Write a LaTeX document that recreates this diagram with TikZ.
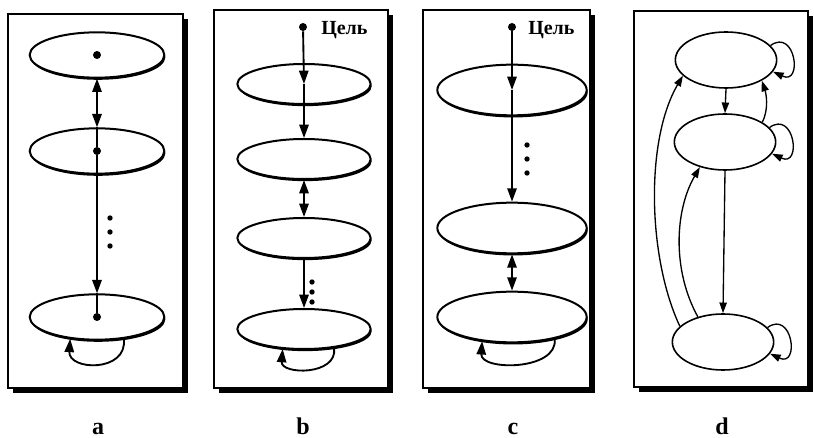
\documentclass[tikz,border=0pt]{standalone}
\usepackage{fontspec}
\setmainfont{Liberation Serif}
\usetikzlibrary{arrows.meta,shapes.geometric,shadows}
\tikzset{
  panel/.style={draw,fill=white,line width=.8pt,drop shadow={shadow xshift=4pt,shadow yshift=-4pt,fill=black,opacity=1}},
  blob/.style={ellipse,draw,fill=white,line width=1.5pt,inner sep=0pt,drop shadow={shadow xshift=.8pt,shadow yshift=-1.6pt,fill=black,opacity=1}},
  ella/.style={blob,minimum width=101pt,minimum height=34pt},
  ellb/.style={blob,minimum width=100pt,minimum height=30pt},
  ellc/.style={blob,minimum width=112pt,minimum height=38pt},
  elld/.style={ellipse,draw,line width=1.2pt,inner sep=0pt,minimum width=76pt,minimum height=42pt},
  spot/.style={circle,fill,inner sep=0pt,minimum size=6pt},
  link/.style={line width=1.4pt},
  arr/.style={link,-{Triangle[length=10pt,width=7pt]}},
  dblarr/.style={link,{Triangle[length=10pt,width=7pt]}-{Triangle[length=10pt,width=7pt]}},
  darr/.style={line width=1pt,-{Triangle[length=8pt,width=5.5pt]}},
  goal/.style={font=\fontsize{15}{17}\selectfont\bfseries,anchor=base west,inner sep=0pt},
  lbl/.style={font=\fontsize{18}{20}\selectfont\bfseries,anchor=base,inner sep=0pt},
}
\begin{document}
\begin{tikzpicture}[x=.75pt,y=-.75pt]
\useasboundingbox (0,0) rectangle (814,438);
\draw[panel] (8,14) rectangle (183,388);
\draw[panel] (214,10) rectangle (388,388);
\draw[panel] (423,10) rectangle (590,388);
\draw[panel] (634,11) rectangle (808,387);

% a
\node[ella] (a1) at (97,55) {};
\node[ella] (a2) at (97,151) {};
\node[ella] (a3) at (97,317) {};
\node[spot] (pa1) at (a1) {};
\node[spot] (pa2) at (a2) {};
\node[spot] (pa3) at (a3) {};
\draw[dblarr] (a1.south) -- (a2.north);
\draw[link] (a2.north) -- (pa2);
\draw[arr] (pa2) -- (a3.north);
\draw[link] (a3.north) -- (pa3);
\foreach \y in {218,232,246} \fill (110,\y) circle (2pt);
\draw[arr] (a3.-39) .. controls +(4,34) and +(-2,32) .. (a3.-141);
\node[lbl] (la) at (98,434) {a};

% b
\node[spot] (gb) at (303,27) {};
\node[goal] (tb) at (321,35) {Цель};
\node[ellb] (b1) at (304,84) {};
\node[ellb] (b2) at (304,159) {};
\node[ellb] (b3) at (304,238) {};
\node[ellb] (b4) at (304,329) {};
\draw[arr] (gb) -- (b1.center);
\draw[arr] (b1.center) -- (b2.north);
\draw[dblarr] (b2.south) -- (b3.north);
\draw[arr] (b3.south) -- (b4.north);
\foreach \y in {282,292,302} \fill (312,\y) circle (2pt);
\draw[arr] (b4.-32) .. controls +(4,28) and +(-2,26) .. (b4.-137);
\node[lbl] (lb) at (303,434) {b};

% c
\node[spot] (gc) at (512,27) {};
\node[goal] (tc) at (528,35) {Цель};
\node[ellc] (c1) at (512,90) {};
\node[ellc] (c2) at (512,228) {};
\node[ellc] (c3) at (512,317) {};
\draw[arr] (gc) -- (c1.center);
\draw[arr] (c1.center) -- (c2.north);
\foreach \y in {145,159,173} \fill (527,\y) circle (2pt);
\draw[dblarr] (c2.south) -- (c3.north);
\draw[arr] (c3.-27) .. controls +(4,32) and +(-2,30) .. (c3.-141);
\node[lbl] (lc) at (513,434) {c};

% d
\node[elld] (d1) at (726,60) {};
\node[elld] (d2) at (725,142) {};
\node[elld] (d3) at (723,342) {};
\draw[darr] (d1.south) -- (d2.north);
\draw[darr] (d2.south) -- (d3.north);
\draw[darr] (d2.28) .. controls +(7,-14) and +(4,12) .. (d1.-30);
\draw[darr] (d3.160) .. controls +(-32,-68) and +(-38,65) .. (d1.-160);
\draw[darr] (d3.135) .. controls +(-26,-47) and +(-25,43) .. (d2.-135);
\foreach \n in {d1,d2,d3}
  \draw[darr] (\n.18) .. controls +(25,-18) and +(30,14) .. (\n.-14);
\node[lbl] (ld) at (722,434) {d};
\end{tikzpicture}
\end{document}
